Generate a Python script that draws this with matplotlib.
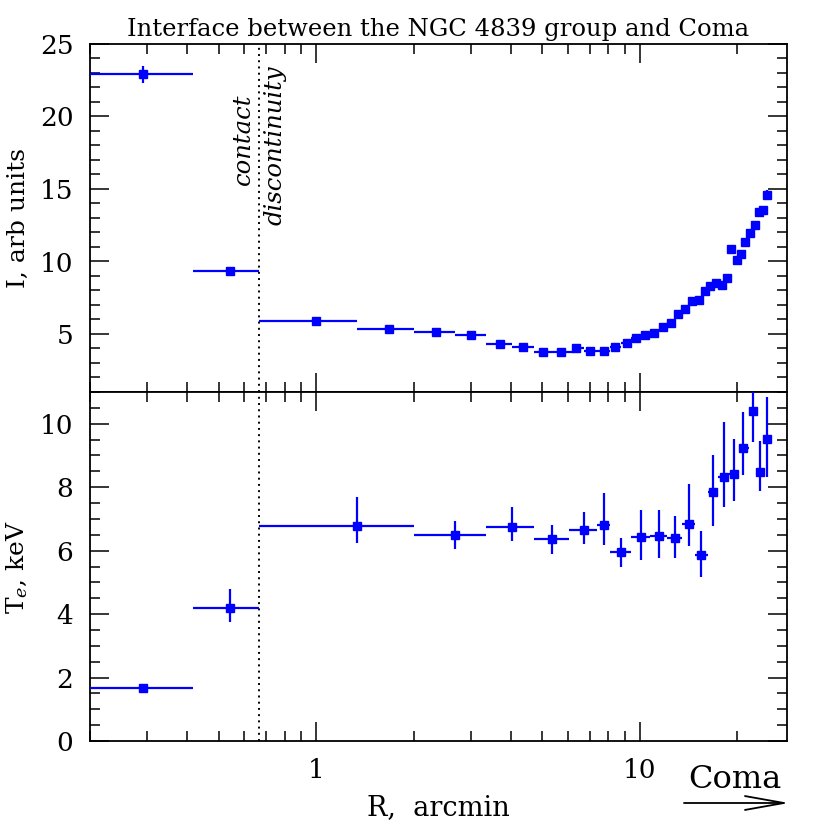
"""Surface brightness and temperature across the NGC 4839 / Coma interface."""

import matplotlib

matplotlib.use("Agg")
import matplotlib.pyplot as plt
from matplotlib.patches import FancyArrowPatch
from matplotlib.ticker import (FixedLocator, LogLocator, MultipleLocator, NullFormatter,
                               FuncFormatter)
import numpy as np


# --- surface brightness profile (top panel) ---
r_I = [0.291, 0.541, 1.0, 1.675, 2.34, 3.01, 3.69, 4.35, 5.02, 5.69, 6.37, 7.04, 7.74,
       8.39, 9.10, 9.75, 10.4, 11.1, 11.8, 12.5, 13.1, 13.8, 14.5, 15.2, 15.9, 16.5,
       17.2, 17.9, 18.6, 19.2, 19.9, 20.6, 21.2, 21.9, 22.7, 23.3, 24.0, 24.7]
r_I_lo = [0.17, 0.417, 0.667, 1.34, 2.0, 2.68, 3.35, 4.03, 4.70, 5.40, 6.25, 6.71, 7.38,
          8.07, 8.75, 9.42, 10.1, 10.75, 11.45, 12.15, 12.8, 13.45, 14.15, 14.85, 15.55,
          16.2, 16.85, 17.55, 18.25, 18.9, 19.55, 20.25, 20.9, 21.55, 22.3, 23.0, 23.65, 24.35]
r_I_hi = [0.417, 0.667, 1.34, 2.0, 2.68, 3.35, 4.03, 4.70, 5.40, 6.25, 6.71, 7.38, 8.07,
          8.75, 9.42, 10.1, 10.75, 11.45, 12.15, 12.8, 13.45, 14.15, 14.85, 15.55, 16.2,
          16.85, 17.55, 18.25, 18.9, 19.55, 20.25, 20.9, 21.55, 22.3, 23.0, 23.65, 24.35, 25.0]
I_val = [22.9, 9.33, 5.88, 5.35, 5.12, 4.96, 4.32, 4.07, 3.75, 3.79, 4.02, 3.84, 3.84,
         4.11, 4.37, 4.75, 4.92, 5.05, 5.51, 5.74, 6.40, 6.72, 7.25, 7.32, 7.98, 8.32,
         8.55, 8.37, 8.87, 10.84, 10.07, 10.50, 11.35, 11.96, 12.54, 13.43, 13.52, 14.60]
I_err = [0.6, 0.15, 0.1, 0.1, 0.1, 0.1, 0.1, 0.1, 0.1, 0.1, 0.1, 0.1, 0.1,
         0.1, 0.1, 0.12, 0.12, 0.12, 0.15, 0.15, 0.15, 0.15, 0.18, 0.18, 0.2, 0.2,
         0.2, 0.2, 0.2, 0.25, 0.25, 0.25, 0.25, 0.25, 0.25, 0.25, 0.25, 0.3]

# --- temperature profile (bottom panel) ---
r_T = [0.291, 0.541, 1.34, 2.68, 4.03, 5.36, 6.73, 7.74, 8.73, 10.1, 11.5, 12.8, 14.2,
       15.5, 16.8, 18.2, 19.5, 20.9, 22.3, 23.6, 24.7]
r_T_lo = [0.17, 0.417, 0.667, 2.0, 3.35, 4.70, 6.06, 7.39, 8.07, 9.4, 10.75, 12.1, 13.5,
          14.8, 16.2, 17.5, 18.9, 20.3, 21.7, 23.0, 24.2]
r_T_hi = [0.417, 0.667, 2.0, 3.35, 4.70, 6.06, 7.39, 8.07, 9.4, 10.75, 12.1, 13.5, 14.8,
          16.2, 17.5, 18.9, 20.3, 21.7, 23.0, 24.2, 25.2]
T_val = [1.66, 4.19, 6.78, 6.49, 6.76, 6.36, 6.65, 6.81, 5.95, 6.44, 6.46, 6.39, 6.84,
         5.86, 7.84, 8.33, 8.42, 9.24, 10.39, 8.47, 9.52]
T_err_lo = [0.05, 0.45, 0.55, 0.43, 0.45, 0.48, 0.43, 0.64, 0.45, 0.74, 0.68, 0.62, 0.70,
            0.68, 1.07, 0.97, 0.85, 0.87, 0.97, 0.60, 1.20]
T_err_hi = [0.05, 0.61, 0.92, 0.43, 0.63, 0.45, 0.56, 1.01, 0.45, 0.84, 0.82, 0.71, 1.26,
            0.77, 1.18, 1.72, 1.09, 1.13, 1.00, 0.98, 1.32]

R_CONTACT = 0.667
X_LIM = (0.2, 28.5)
X_TICKS = [1, 10]

plt.rcParams["font.family"] = ["DejaVu Serif"]
plt.rcParams["mathtext.fontset"] = "dejavuserif"


def _style_axis(ax):
    ax.set_xscale("log")
    ax.set_xlim(*X_LIM)
    ax.xaxis.set_major_locator(FixedLocator(X_TICKS))
    ax.xaxis.set_major_formatter(FuncFormatter(lambda v, _: f"{v:g}"))
    ax.xaxis.set_minor_locator(LogLocator(base=10, subs=np.arange(2, 10)))
    ax.xaxis.set_minor_formatter(NullFormatter())
    ax.tick_params(which="both", direction="in", top=True, right=True, width=1.1,
                   labelsize=19, pad=12)
    ax.tick_params(which="major", length=13.5)
    ax.tick_params(which="minor", length=7)
    for s in ax.spines.values():
        s.set_linewidth(1.3)


def _errplot(ax, x, lo, hi, y, yerr):
    x = np.asarray(x)
    xerr = [x - np.asarray(lo), np.asarray(hi) - x]
    ax.errorbar(x, y, xerr=xerr, yerr=yerr, fmt="s", color="#0000ff", ms=5.5,
                elinewidth=1.6, capsize=0, zorder=3)


fig = plt.figure(figsize=(8.3, 8.3), dpi=100)
ax1 = fig.add_axes([90 / 830, 1 - 392 / 830, 697 / 830, 348 / 830])
ax2 = fig.add_axes([90 / 830, 1 - 741 / 830, 697 / 830, 349 / 830], sharex=ax1)

_errplot(ax1, r_I, r_I_lo, r_I_hi, I_val, I_err)
_style_axis(ax1)
ax1.set_ylim(1, 25)
ax1.yaxis.set_major_locator(MultipleLocator(5))
ax1.yaxis.set_minor_locator(MultipleLocator(1))
ax1.tick_params(labelbottom=False)
ax1.set_ylabel("I, arb units", fontsize=18, labelpad=7)
ax1.set_title("Interface between the NGC 4839 group and Coma", fontsize=17.5, pad=6)

_errplot(ax2, r_T, r_T_lo, r_T_hi, T_val, [T_err_lo, T_err_hi])
_style_axis(ax2)
ax2.set_ylim(0, 11)
ax2.yaxis.set_major_locator(MultipleLocator(2))
ax2.yaxis.set_minor_locator(MultipleLocator(0.5))
ax2.set_ylabel(r"T$_e$, keV", fontsize=18, labelpad=7)
ax2.set_xlabel("R,  arcmin", fontsize=19.5, labelpad=8)

for ax in (ax1, ax2):
    ax.axvline(R_CONTACT, color="black", ls=(0, (1, 2.2)), lw=1.4, zorder=2)

ax1.text(0.595, 18.45, "contact", rotation=90, style="italic", fontsize=17.5,
         ha="center", va="center")
ax1.text(0.745, 18.0, "discontinuity", rotation=90, style="italic", fontsize=17.5,
         ha="center", va="center")

fig.text(735 / 830, 1 - 779 / 830, "Coma", fontsize=23, ha="center", va="center")
fig.add_artist(FancyArrowPatch(
    (684 / 830, 1 - 803 / 830), (789 / 830, 1 - 803 / 830),
    transform=fig.transFigure, arrowstyle="->,head_length=2.8,head_width=0.5",
    mutation_scale=10, lw=1.3, color="black", shrinkA=0, shrinkB=0))

fig.savefig("out.png", dpi=100)
